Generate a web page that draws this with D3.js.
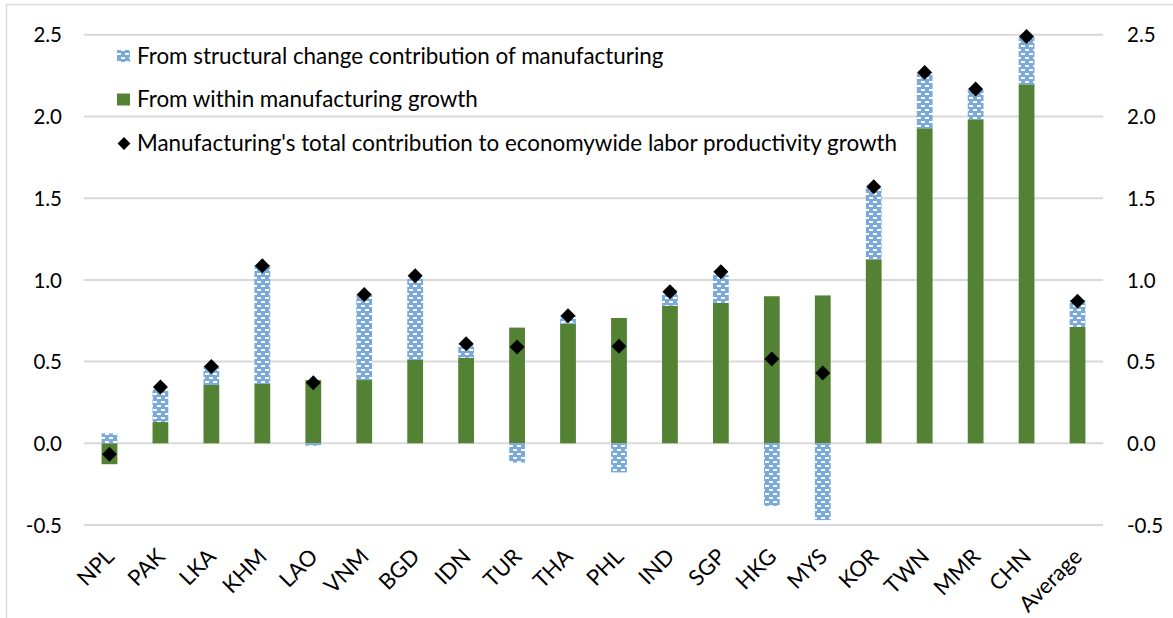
<!DOCTYPE html>
<html>
<head>
<meta charset="utf-8">
<script src="https://cdn.jsdelivr.net/npm/d3@7"></script>
<style>
  html, body { margin: 0; padding: 0; background: #fff; }
  svg { display: block; }
  text { font-family: Lato, "Open Sans", sans-serif; fill: #000; }
</style>
</head>
<body>
<svg id="chart" width="1173" height="618"></svg>
<script>
const categories = ["NPL","PAK","LKA","KHM","LAO","VNM","BGD","IDN","TUR","THA","PHL","IND","SGP","HKG","MYS","KOR","TWN","MMR","CHN","Average"];
const withinGrowth = [-0.128, 0.13, 0.357, 0.363, 0.387, 0.387, 0.51, 0.524, 0.708, 0.732, 0.767, 0.842, 0.86, 0.90, 0.905, 1.126, 1.928, 1.983, 2.197, 0.713];
const structuralChange = [0.061, 0.20, 0.112, 0.727, -0.015, 0.525, 0.50, 0.082, -0.118, 0.048, -0.178, 0.076, 0.17, -0.384, -0.47, 0.434, 0.34, 0.179, 0.288, 0.164];
const totalContribution = [-0.067, 0.345, 0.47, 1.087, 0.371, 0.91, 1.026, 0.61, 0.59, 0.78, 0.594, 0.928, 1.05, 0.516, 0.43, 1.57, 2.27, 2.168, 2.49, 0.87];
const tickValues = [-0.5, 0.0, 0.5, 1.0, 1.5, 2.0, 2.5];
const legendLabels = [
  "From structural change contribution of manufacturing",
  "From within manufacturing growth",
  "Manufacturing's total contribution to economywide labor productivity growth"
];

const GREEN = "#548235";
const BLUE = "#7aaadc";
const GRID = "#d9d9d9";

const svg = d3.select("#chart");
const defs = svg.append("defs");
const pat = defs.append("pattern")
  .attr("id", "brick")
  .attr("patternUnits", "userSpaceOnUse")
  .attr("width", 8).attr("height", 8);
pat.append("rect").attr("width", 8).attr("height", 8).attr("fill", BLUE);
pat.append("rect").attr("x", 1).attr("y", 1).attr("width", 4).attr("height", 2).attr("fill", "#fff");
pat.append("rect").attr("x", 5).attr("y", 5).attr("width", 4).attr("height", 2).attr("fill", "#fff");
pat.append("rect").attr("x", -3).attr("y", 5).attr("width", 4).attr("height", 2).attr("fill", "#fff");

// chart frame
svg.append("path").attr("d", "M6.5,618 V4.5 H1173").attr("fill", "none").attr("stroke", GRID).attr("stroke-width", 1.5);

const plot = { left: 84, right: 1103 };
const x = d3.scaleBand().domain(categories).range([plot.left, plot.right]).paddingInner(0.69).paddingOuter(0.345);
const y = d3.scaleLinear().domain([-0.5, 2.5]).range([525, 34.8]);

// gridlines
svg.append("g").selectAll("line").data(tickValues).join("line")
  .attr("x1", plot.left).attr("x2", plot.right)
  .attr("y1", d => y(d)).attr("y2", d => y(d))
  .attr("stroke", GRID).attr("stroke-width", 2);

// axes
const fmt = v => d3.format(".1f")(v).replace("\u2212", "-");
const leftAxis = svg.append("g").attr("transform", "translate(62,0)")
  .call(d3.axisLeft(y).tickValues(tickValues).tickFormat(fmt).tickSize(0).tickPadding(0));
leftAxis.select(".domain").remove();
leftAxis.selectAll("text").attr("font-size", 20.5).attr("font-family", "Lato").attr("dy", "0.35em");

const rightAxis = svg.append("g").attr("transform", "translate(1127,0)")
  .call(d3.axisRight(y).tickValues(tickValues).tickFormat(fmt).tickSize(0).tickPadding(0));
rightAxis.select(".domain").remove();
rightAxis.selectAll("text").attr("font-size", 20.5).attr("font-family", "Lato").attr("dy", "0.35em");

// stacked data
const rows = categories.map((c, i) => ({ cat: c, within: withinGrowth[i], structural: structuralChange[i] }));
const stack = d3.stack().keys(["within", "structural"]).offset(d3.stackOffsetDiverging);
const series = stack(rows);

svg.append("g").selectAll("g").data(series).join("g")
  .attr("fill", d => d.key === "within" ? GREEN : "url(#brick)")
  .selectAll("rect").data(d => d).join("rect")
  .attr("x", d => x(d.data.cat))
  .attr("width", x.bandwidth())
  .attr("y", d => y(Math.max(d[0], d[1])))
  .attr("height", d => Math.abs(y(d[0]) - y(d[1])));

// total markers
const diamond = d3.symbol().type(d3.symbolSquare).size(112);
svg.append("g").selectAll("path").data(categories).join("path")
  .attr("d", diamond)
  .attr("fill", "#000")
  .attr("transform", (c, i) => `translate(${x(c) + x.bandwidth() / 2},${y(totalContribution[i])}) rotate(45)`);

// x labels
svg.append("g").selectAll("text").data(categories).join("text")
  .attr("transform", c => `translate(${x(c) + x.bandwidth() / 2 + 6},${558}) rotate(-45)`)
  .attr("text-anchor", "end")
  .attr("font-size", 22)
  .text(c => c);

// legend
const legend = svg.append("g");
const legY = [56, 99.5, 143.5];
legend.append("rect").attr("x", 117).attr("y", legY[0] - 6).attr("width", 13).attr("height", 12).attr("fill", "url(#brick)");
legend.append("rect").attr("x", 117).attr("y", legY[1] - 6).attr("width", 13).attr("height", 12).attr("fill", GREEN);
legend.append("path").attr("d", d3.symbol().type(d3.symbolSquare).size(82))
  .attr("transform", `translate(124,${legY[2]}) rotate(45)`).attr("fill", "#000");
legend.selectAll("text").data(legendLabels).join("text")
  .attr("x", 137).attr("y", (d, i) => legY[i])
  .attr("dy", "0.35em")
  .attr("font-size", 22.4)
  .text(d => d);
</script>
</body>
</html>
